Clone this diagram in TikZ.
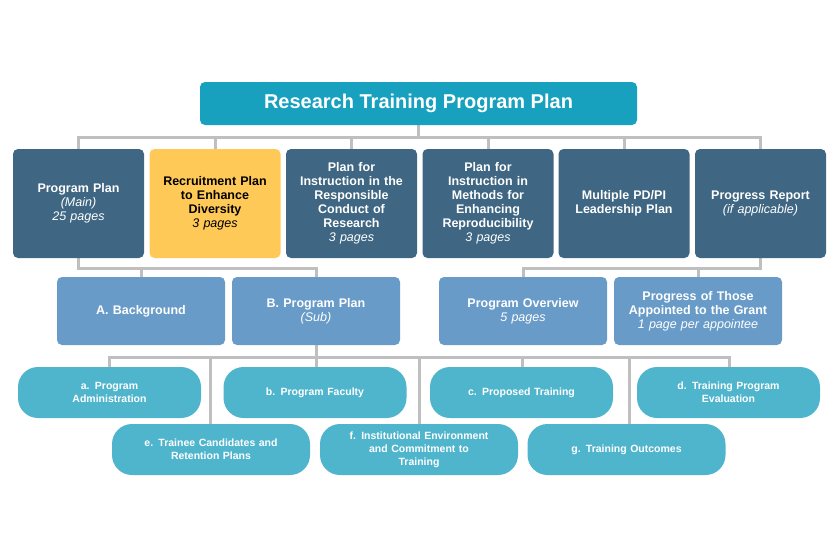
\documentclass[tikz,border=0pt]{standalone}
\usepackage{fontspec}
\setmainfont{Liberation Sans}
\begin{document}
\begin{tikzpicture}[x=1pt,y=-1pt,
  conn/.style={draw=black!25,line width=3pt},
  base/.style={rounded corners=5pt,text=white,align=center,font=\bfseries\fontsize{12.5}{14}\selectfont,inner sep=1pt},
  dark/.style={base,fill=dk,minimum width=131pt,minimum height=109pt,text width=128pt},
  yel/.style={dark,fill=yl,text=black},
  mid/.style={base,fill=md,minimum width=168pt,minimum height=68pt,text width=160pt},
  pill/.style={base,fill=lt,rounded corners=20pt,minimum width=183pt,minimum height=51pt,text width=170pt,font=\bfseries\fontsize{10.5}{13}\selectfont},
  pillb/.style={pill,minimum width=198pt},
  it/.style={font=\itshape\mdseries\fontsize{11.5}{13}\selectfont}]
\definecolor{dk}{HTML}{3F6682}
\definecolor{yl}{HTML}{FFC957}
\definecolor{md}{HTML}{689BC7}
\definecolor{lt}{HTML}{4FB5CC}
\definecolor{tl}{HTML}{17A1BF}
\useasboundingbox (0,0) rectangle (835,557);
% connectors
\coordinate (t1) at (418,137);
\draw[conn] (418,125) -- (418,137);
\draw[conn] (78,149) -- (78,137) -- (760,137) -- (760,149);
\foreach \x in {215,351,488,624} \draw[conn] (\x,137) -- (\x,149);
\draw[conn] (78,258) -- (78,268) -- (316,268) -- (316,277);
\draw[conn] (141,268) -- (141,277);
\draw[conn] (760,258) -- (760,268) -- (523,268) -- (523,277);
\draw[conn] (698,268) -- (698,277);
\draw[conn] (316,345) -- (316,357);
\draw[conn] (109,367) -- (109,357) -- (729,357) -- (729,367);
\foreach \x in {210,419,629} \draw[conn] (\x,357) -- (\x,424);
\foreach \x in {316,522} \draw[conn] (\x,357) -- (\x,367);
% title
\node[base,fill=tl,minimum width=437pt,minimum height=43pt,font=\bfseries\fontsize{20}{22}\selectfont] (title) at (418.5,103.5) {Research Training Program Plan};
% row1
\node[dark] (pp) at (78.5,203.5) {Program Plan\\{\it (Main)}\\{\it 25 pages}};
\node[yel] (rp) at (215,203.5) {Recruitment Plan\\to Enhance\\Diversity\\{\it 3 pages}};
\node[dark] (rcr) at (351.5,203.5) {Plan for\\Instruction in the\\Responsible\\Conduct of\\Research\\{\it 3 pages}};
\node[dark] (rep) at (488,203.5) {Plan for\\Instruction in\\Methods for\\Enhancing\\Reproducibility\\{\it 3 pages}};
\node[dark] (mpi) at (624,203.5) {Multiple PD/PI\\Leadership Plan};
\node[dark] (pr) at (760.5,203.5) {Progress Report\\{\it (if applicable)}};
% row2
\node[mid] (A) at (141,311) {A. Background};
\node[mid] (B) at (316,311) {B. Program Plan\\{\it (Sub)}};
\node[mid] (po) at (523,311) {Program Overview\\{\it 5 pages}};
\node[mid] (pg) at (698,311) {Progress of Those\\Appointed to the Grant\\{\it 1 page per appointee}};
% row3
\node[pill] (a) at (109.5,392.5) {a. Program\\Administration};
\node[pill] (b) at (315,392.5) {b. Program Faculty};
\node[pill] (c) at (521.5,392.5) {c. Proposed Training};
\node[pill] (d) at (728.5,392.5) {d. Training Program\\Evaluation};
\node[pillb] (e) at (211,449.5) {e. Trainee Candidates and\\Retention Plans};
\node[pillb] (f) at (419,449.5) {f. Institutional Environment\\and Commitment to\\Training};
\node[pillb] (g) at (626.5,449.5) {g. Training Outcomes};
\end{tikzpicture}
\end{document}
